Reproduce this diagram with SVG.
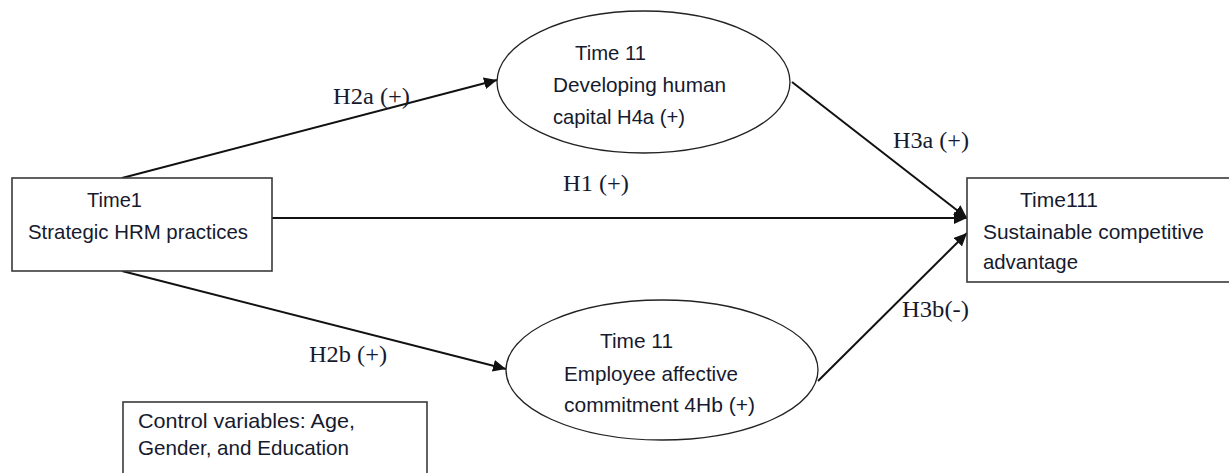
<svg xmlns="http://www.w3.org/2000/svg" width="1229" height="473" viewBox="0 0 1229 473">
  <style>
    .box { fill: #ffffff; stroke: #3a3a3a; stroke-width: 1.6; }
    .ell { fill: #ffffff; stroke: #222222; stroke-width: 1.3; }
    .t { font-family: "Liberation Sans", Arial, sans-serif; font-size: 21px; fill: #161a2e; }
    .lbl { font-family: "Liberation Serif", "Times New Roman", serif; font-size: 24px; fill: #161a2e; }
    .conn { stroke: #111111; stroke-width: 2; fill: none; }
  </style>
  <defs>
    <marker id="arr" markerUnits="userSpaceOnUse" markerWidth="14" markerHeight="12" refX="13" refY="6" orient="auto">
      <path d="M0,0 L13,6 L0,12 Z" fill="#111111"/>
    </marker>
  </defs>
  <rect width="1229" height="473" fill="#ffffff"/>

  <g id="connectors">
    <line class="conn" x1="122" y1="178" x2="497" y2="80" marker-end="url(#arr)"/>
    <line class="conn" x1="122" y1="271" x2="506" y2="369" marker-end="url(#arr)"/>
    <line class="conn" x1="272" y1="218" x2="967" y2="218" marker-end="url(#arr)"/>
    <line class="conn" x1="792" y1="82" x2="967" y2="218" marker-end="url(#arr)"/>
    <line class="conn" x1="818" y1="381" x2="967" y2="233" marker-end="url(#arr)"/>
    <text class="lbl" x="333" y="104" textLength="77" lengthAdjust="spacingAndGlyphs">H2a (+)</text>
    <text class="lbl" x="309" y="362" textLength="78" lengthAdjust="spacingAndGlyphs">H2b (+)</text>
    <text class="lbl" x="563" y="191" textLength="66" lengthAdjust="spacingAndGlyphs">H1 (+)</text>
    <text class="lbl" x="893" y="148" textLength="76" lengthAdjust="spacingAndGlyphs">H3a (+)</text>
    <text class="lbl" x="902" y="317" textLength="67" lengthAdjust="spacingAndGlyphs">H3b(-)</text>
  </g>

  <g id="node-shrm">
    <rect class="box" x="12" y="178" width="260" height="93"/>
    <text class="t" x="87" y="207" textLength="55" lengthAdjust="spacingAndGlyphs">Time1</text>
    <text class="t" x="28" y="239" textLength="220" lengthAdjust="spacingAndGlyphs">Strategic HRM practices</text>
  </g>

  <g id="node-human-capital">
    <ellipse class="ell" cx="643.5" cy="82" rx="146.5" ry="71"/>
    <text class="t" x="575" y="60" textLength="71" lengthAdjust="spacingAndGlyphs">Time 11</text>
    <text class="t" x="553" y="92" textLength="173" lengthAdjust="spacingAndGlyphs">Developing human</text>
    <text class="t" x="553" y="124" textLength="132" lengthAdjust="spacingAndGlyphs">capital H4a (+)</text>
  </g>

  <g id="node-commitment">
    <ellipse class="ell" cx="662" cy="370" rx="156" ry="70"/>
    <text class="t" x="600" y="348" textLength="73" lengthAdjust="spacingAndGlyphs">Time 11</text>
    <text class="t" x="564" y="381" textLength="174" lengthAdjust="spacingAndGlyphs">Employee affective</text>
    <text class="t" x="564" y="412" textLength="191" lengthAdjust="spacingAndGlyphs">commitment 4Hb (+)</text>
  </g>

  <g id="node-sca">
    <rect class="box" x="967" y="178" width="280" height="104"/>
    <text class="t" x="1020" y="207" textLength="78" lengthAdjust="spacingAndGlyphs">Time111</text>
    <text class="t" x="983" y="239" textLength="221" lengthAdjust="spacingAndGlyphs">Sustainable competitive</text>
    <text class="t" x="983" y="269" textLength="95" lengthAdjust="spacingAndGlyphs">advantage</text>
  </g>

  <g id="node-controls">
    <rect class="box" x="123" y="402" width="304" height="90"/>
    <text class="t" x="138" y="428" textLength="217" lengthAdjust="spacingAndGlyphs">Control variables: Age,</text>
    <text class="t" x="138" y="455" textLength="211" lengthAdjust="spacingAndGlyphs">Gender, and Education</text>
  </g>
</svg>
